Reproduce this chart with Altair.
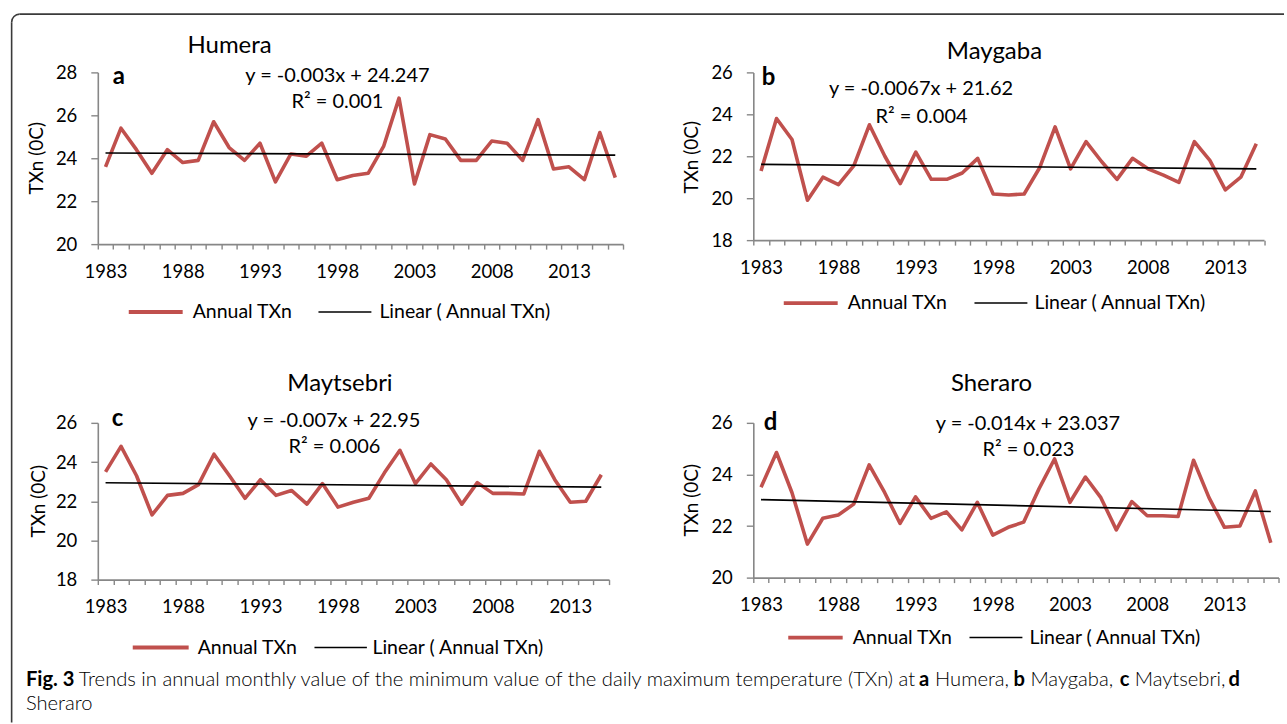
import altair as alt
import pandas as pd

# ---------------- data ----------------
YEARS_HUMERA = list(range(1983, 2017))
HUMERA = [23.6, 25.4, 24.4, 23.3, 24.4, 23.8, 23.9, 25.7, 24.5, 23.9,
          24.7, 22.9, 24.2, 24.1, 24.7, 23.0, 23.2, 23.3, 24.55, 26.8,
          22.8, 25.1, 24.9, 23.9, 23.9, 24.8, 24.7, 23.9, 25.8, 23.5,
          23.6, 23.0, 25.2, 23.1]

YEARS_MAYGABA = list(range(1983, 2016))
MAYGABA = [21.3, 23.8, 22.8, 19.9, 21.0, 20.65, 21.55, 23.5, 22.0, 20.7,
           22.2, 20.9, 20.9, 21.2, 21.9, 20.2, 20.15, 20.2, 21.45, 23.4,
           21.4, 22.7, 21.75, 20.9, 21.9, 21.4, 21.1, 20.75, 22.7, 21.8,
           20.4, 21.0, 22.6]

YEARS_MAYTSEBRI = list(range(1983, 2016))
MAYTSEBRI = [23.5, 24.8, 23.3, 21.3, 22.3, 22.4, 22.85, 24.4, 23.3, 22.15,
             23.1, 22.3, 22.55, 21.85, 22.9, 21.7, 21.95, 22.15, 23.45, 24.6,
             22.9, 23.9, 23.1, 21.85, 22.95, 22.4, 22.4, 22.37, 24.55, 23.1,
             21.95, 22.0, 23.35]

YEARS_SHERARO = list(range(1983, 2017))
SHERARO = [23.5, 24.85, 23.3, 21.3, 22.3, 22.43, 22.85, 24.37, 23.3, 22.1,
           23.13, 22.3, 22.55, 21.85, 22.92, 21.65, 21.95, 22.15, 23.45, 24.6,
           22.92, 23.9, 23.1, 21.85, 22.95, 22.4, 22.4, 22.37, 24.55, 23.1,
           21.95, 22.0, 23.36, 21.35]

STATIONS = ["Humera", "Maygaba", "Maytsebri", "Sheraro"]
LETTERS = ["a", "b", "c", "d"]
SLOPES = [-0.003, -0.0067, -0.007, -0.014]
INTERCEPTS = [24.247, 21.62, 22.95, 23.037]
EQUATIONS = ["y = -0.003x + 24.247", "y = -0.0067x + 21.62",
             "y = -0.007x + 22.95", "y = -0.014x + 23.037"]
R2_LABELS = ["R\u00b2 = 0.001", "R\u00b2 = 0.004", "R\u00b2 = 0.006", "R\u00b2 = 0.023"]
Y_TICKS = [[20, 22, 24, 26, 28], [18, 20, 22, 24, 26],
           [18, 20, 22, 24, 26], [20, 22, 24, 26]]
X_LABEL_YEARS = [1983, 1988, 1993, 1998, 2003, 2008, 2013]
Y_TITLE = "TXn (0C)"
LEGEND_SERIES = "Annual TXn"
LEGEND_TREND = "Linear ( Annual TXn)"

CAPTION_SEGMENTS = [
    ("Fig. 3", "bold"),
    ("Trends in annual monthly value of the minimum value of the daily maximum temperature (TXn) at", 300),
    ("a", "bold"), ("Humera,", 300),
    ("b", "bold"), ("Maygaba,", 300),
    ("c", "bold"), ("Maytsebri,", 300),
    ("d", "bold"),
]
CAPTION_LINE2 = "Sheraro"

# ---------------- styling / layout ----------------
FONT = "Lato"
RED = "#C0504D"
GREY = "#878787"

# panel plot sizes (px)
SIZES = [(526, 172), (511.5, 168), (512, 157), (526, 155)]

# per-panel annotation positions relative to the plot origin
LAYOUT = [
    dict(title=(132, -26), letter=(15, 5), eq=(240, 4), r2=(240, 30), leg_y=240,
         red=(31, 85), ann=95, blk=(221, 274), lin=282, ytitle=(-61, 86)),
    dict(title=(241.5, -20), letter=(8.5, 6), eq=(168, 17), r2=(168.5, 45), leg_y=231,
         red=(30.5, 84.5), ann=94.5, blk=(221.5, 274.5), lin=281.5, ytitle=(-61, 85)),
    dict(title=(242.5, -39), letter=(14, -4), eq=(236.5, -2), r2=(237, 24), leg_y=225,
         red=(35, 91), ann=100, blk=(217, 269.5), lin=275, ytitle=(-59, 78.5)),
    dict(title=(238.5, -39), letter=(10.5, 0), eq=(275, 1), r2=(275.5, 27), leg_y=215,
         red=(35, 89.5), ann=99.5, blk=(216.5, 269.5), lin=276.5, ytitle=(-61, 77.5)),
]


def one_row(txt):
    return pd.DataFrame({"t": [txt]})


def text_layer(txt, x, y, size, weight="normal", align="center", angle=0, font=FONT):
    return alt.Chart(one_row(txt)).mark_text(
        font=font, fontSize=size, fontWeight=weight, align=align,
        baseline="middle", angle=angle, color="black"
    ).encode(x=alt.value(x), y=alt.value(y), text="t:N")


def hline(x1, x2, y, color, width):
    return alt.Chart(one_row("")).mark_rule(color=color, strokeWidth=width).encode(
        x=alt.value(x1), x2=alt.value(x2), y=alt.value(y))


def vline(x, y1, y2, color, width):
    return alt.Chart(one_row("")).mark_rule(color=color, strokeWidth=width).encode(
        x=alt.value(x), y=alt.value(y1), y2=alt.value(y2))


def panel(i, years, values, extra=()):
    w, h = SIZES[i]
    L = LAYOUT[i]
    n = len(years)
    first, last = years[0], years[-1]
    df = pd.DataFrame({"year": years, "value": values})
    trend = pd.DataFrame({
        "year": [first, last],
        "value": [SLOPES[i] * 1 + INTERCEPTS[i], SLOPES[i] * n + INTERCEPTS[i]],
    })
    bounds = [yr - 0.5 for yr in years] + [last + 0.5]
    label_expr = ("indexof([%s], datum.value + 0.5) >= 0 ? toString(datum.value + 0.5) : ''"
                  % ",".join(str(v) for v in X_LABEL_YEARS))
    xs = alt.Scale(domain=[first - 0.5, last + 0.5], nice=False, zero=False)
    ys = alt.Scale(domain=[min(Y_TICKS[i]), max(Y_TICKS[i])], nice=False, zero=False)
    xaxis = alt.Axis(values=bounds, labelExpr=label_expr, labelOffset=w / n / 2,
                     tickSize=5, labelPadding=22, labelBaseline="middle",
                     labelFlush=False, labelOverlap=False, grid=False, title=None)
    yaxis = alt.Axis(values=Y_TICKS[i], tickSize=7, labelPadding=14, grid=False,
                     title=None, labelFlush=False, labelOverlap=False)
    x_enc = alt.X("year:Q", scale=xs, axis=xaxis)
    y_enc = alt.Y("value:Q", scale=ys, axis=yaxis)

    series = alt.Chart(df).mark_line(color=RED, strokeWidth=3.6, strokeJoin="round").encode(x=x_enc, y=y_enc)
    trend_line = alt.Chart(trend).mark_line(color="black", strokeWidth=1.6).encode(x=x_enc, y=y_enc)

    layers = [
        series, trend_line,
        text_layer(STATIONS[i], L["title"][0], L["title"][1], 24),
        text_layer(LETTERS[i], L["letter"][0], L["letter"][1], 24, weight="bold", align="left"),
        text_layer(EQUATIONS[i], L["eq"][0], L["eq"][1], 20),
        text_layer(R2_LABELS[i], L["r2"][0], L["r2"][1], 20),
        text_layer(Y_TITLE, L["ytitle"][0], L["ytitle"][1], 19, angle=270),
        hline(L["red"][0], L["red"][1], L["leg_y"], RED, 3.8),
        text_layer(LEGEND_SERIES, L["ann"], L["leg_y"], 19.5, align="left"),
        hline(L["blk"][0], L["blk"][1], L["leg_y"], "black", 1.6),
        text_layer(LEGEND_TREND, L["lin"], L["leg_y"], 19.5, align="left"),
    ]
    layers.extend(extra)
    return alt.layer(*layers).properties(width=w, height=h)


# frame around the figure (relative to panel a origin)
FRAME = "#3a3a3a"
frame_layers = [
    hline(-78.3, 1188, -58.3, FRAME, 1.6),
    vline(-86.3, -50.3, 651, FRAME, 1.6),
    alt.Chart(one_row("")).mark_arc(radius=8.8, radius2=7.2, theta=4.7124, theta2=6.2832,
                                    color=FRAME).encode(x=alt.value(-78.3), y=alt.value(-50.3)),
]

# caption (relative to panel c origin)
CAP_SIZE = 20.2
CAP_X = [25, 78, 919.5, 935.5, 1014, 1031, 1120.5, 1135.5, 1229.5]
cap_layers = []
for (txt, wt), xx in zip(CAPTION_SEGMENTS, CAP_X):
    cap_layers.append(text_layer(txt, xx - 97, 258, CAP_SIZE, weight=wt, align="left"))
cap_layers.append(text_layer(CAPTION_LINE2, 25 - 97, 282, CAP_SIZE, weight=300, align="left"))

pa = panel(0, YEARS_HUMERA, HUMERA, frame_layers)
pb = panel(1, YEARS_MAYGABA, MAYGABA)
pc = panel(2, YEARS_MAYTSEBRI, MAYTSEBRI, cap_layers)
pd_ = panel(3, YEARS_SHERARO, SHERARO)

chart = alt.concat(pa, pb, pc, pd_, columns=2, bounds="flush",
                   spacing={"row": 179, "column": 130.5}).properties(
    padding={"left": 9.95, "top": 11.95, "right": 0, "bottom": 0},
    background="white",
).configure_view(stroke=None).configure_axis(
    domainColor=GREY, tickColor=GREY, domainWidth=1.6, tickWidth=1.4,
    labelFont=FONT, labelFontSize=18.5, labelColor="black",
)

chart.save("out.html", embed_options={"renderer": "svg", "actions": False})
